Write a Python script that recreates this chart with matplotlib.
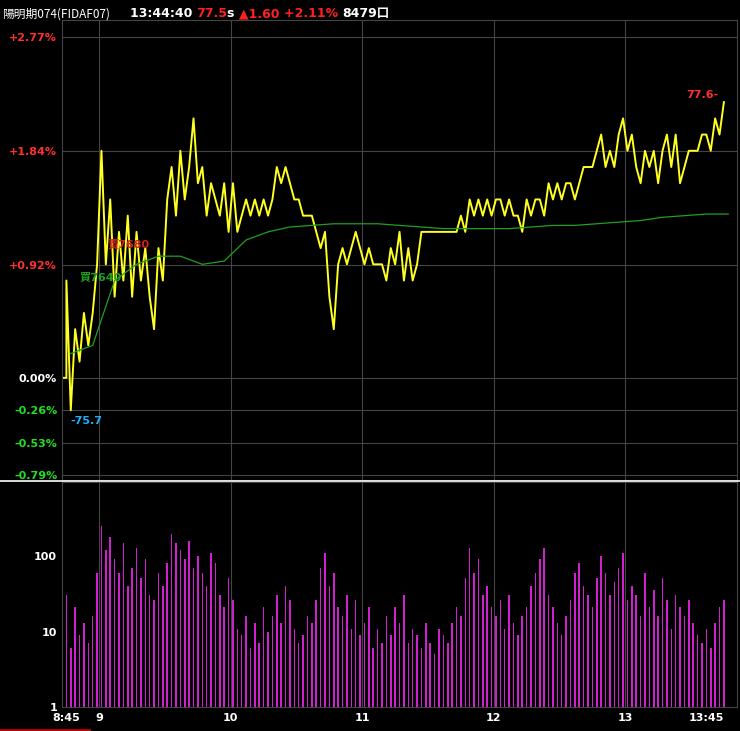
import numpy as np
import matplotlib.pyplot as plt

prev_close = 75.9
# prices every 2 minutes from 8:45
prices = [76.5, 75.7, 76.2, 76.0, 76.3, 76.1, 76.3, 76.6, 77.3, 76.6,
          77.0, 76.4, 76.8, 76.5, 76.9, 76.4, 76.8, 76.5, 76.7, 76.4,
          76.2, 76.7, 76.5, 77.0, 77.2, 76.9, 77.3, 77.0, 77.2, 77.5,
          77.1, 77.2, 76.9, 77.1, 77.0, 76.9, 77.1, 76.8, 77.1, 76.8,
          76.9, 77.0, 76.9, 77.0, 76.9, 77.0, 76.9, 77.0, 77.2, 77.1,
          77.2, 77.1, 77.0, 77.0, 76.9, 76.9, 76.9, 76.8, 76.7, 76.8,
          76.4, 76.2, 76.6, 76.7, 76.6, 76.7, 76.8, 76.7, 76.6, 76.7,
          76.6, 76.6, 76.6, 76.5, 76.7, 76.6, 76.8, 76.5, 76.7, 76.5,
          76.6, 76.8, 76.8, 76.8, 76.8, 76.8, 76.8, 76.8, 76.8, 76.8,
          76.9, 76.8, 77.0, 76.9, 77.0, 76.9, 77.0, 76.9, 77.0, 77.0,
          76.9, 77.0, 76.9, 76.9, 76.8, 77.0, 76.9, 77.0, 77.0, 76.9,
          77.1, 77.0, 77.1, 77.0, 77.1, 77.1, 77.0, 77.1, 77.2, 77.2,
          77.2, 77.3, 77.4, 77.2, 77.3, 77.2, 77.4, 77.5, 77.3, 77.4,
          77.2, 77.1, 77.3, 77.2, 77.3, 77.1, 77.3, 77.4, 77.2, 77.4,
          77.1, 77.2, 77.3, 77.3, 77.3, 77.4, 77.4, 77.3, 77.5, 77.4,
          77.6]
# average price every 10 minutes
avg_prices = [76.05, 76.1, 76.5, 76.6, 76.65, 76.65, 76.6, 76.62, 76.75, 76.8,
              76.83, 76.84, 76.85, 76.85, 76.85, 76.84, 76.83, 76.82, 76.82, 76.82,
              76.82, 76.83, 76.84, 76.84, 76.85, 76.86, 76.87, 76.89, 76.9, 76.91,
              76.91]
volumes = [30, 5, 20, 8, 12, 6, 15, 60, 250, 120, 180, 90, 60, 150, 40, 70, 130, 50, 90, 30,
           25, 60, 40, 80, 200, 150, 120, 90, 160, 70, 100, 60, 40, 110, 80, 30, 20, 50, 25, 10,
           8, 15, 5, 12, 6, 20, 9, 15, 30, 12, 40, 25, 10, 6, 8, 15, 12, 25, 70, 110,
           40, 60, 20, 15, 30, 10, 25, 8, 12, 20, 5, 10, 6, 15, 8, 20, 12, 30, 6, 10,
           8, 5, 12, 6, 4, 10, 8, 6, 12, 20, 15, 50, 130, 60, 90, 30, 40, 20, 15, 25,
           10, 30, 12, 8, 15, 20, 40, 60, 90, 130, 30, 20, 12, 8, 15, 25, 60, 80, 40, 30,
           20, 50, 100, 60, 30, 45, 70, 110, 25, 40, 30, 15, 60, 20, 35, 15, 50, 25, 10, 30,
           20, 15, 25, 12, 8, 6, 10, 5, 12, 20, 25]
hour_ticks = [0, 15, 75, 135, 195, 255, 300]
hour_labels = ['8:45', '9', '10', '11', '12', '13', '13:45']
pct_ticks = [2.77, 1.84, 0.92, 0.0, -0.26, -0.53, -0.79]

def pct(p):
    return (np.asarray(p) - prev_close) / prev_close * 100

t_price = np.arange(len(prices)) * 2
t_avg = np.arange(len(avg_prices)) * 10
t_vol = np.arange(len(volumes)) * 2

plt.rcParams['font.family'] = ['DejaVu Sans', 'Noto Sans CJK TC']
fig = plt.figure(figsize=(7.4, 7.31), dpi=100, facecolor='black')
ax = fig.add_axes([0.0838, 0.3434, 0.9122, 0.6292], facecolor='black')
axv = fig.add_axes([0.0838, 0.0328, 0.9122, 0.3078], facecolor='black', sharex=ax)

grid = '#444444'
for a in (ax, axv):
    for s in a.spines.values():
        s.set_color(grid)
    a.tick_params(length=0)
for t in hour_ticks[1:-1]:
    ax.axvline(t, color=grid, lw=0.8)
    axv.axvline(t, color=grid, lw=0.8)
for v in pct_ticks:
    ax.axhline(v, color=grid, lw=0.8)

ax.plot(np.r_[-2, 0, t_price], np.r_[0, 0, pct(prices)], color='#ffff20', lw=1.4)
ax.plot(t_avg + 2, pct(avg_prices), color='#20a020', lw=0.9)
ax.set_xlim(-2, 306)
ax.set_ylim(-0.83, 2.907)
ax.set_yticks(pct_ticks)
ax.set_yticklabels(['+2.77%', '+1.84%', '+0.92%', '0.00%', '-0.26%', '-0.53%', '-0.79%'],
                   fontsize=8, fontweight='bold')
for lbl, v in zip(ax.get_yticklabels(), pct_ticks):
    lbl.set_color('#ff3030' if v > 0 else ('white' if v == 0 else '#20e020'))
ax.tick_params(axis='x', labelbottom=False)

ax.text(2, pct(75.7) - 0.05, '-75.7', color='#20b0ff', fontsize=8, fontweight='bold', va='top')
ax.text(283, pct(77.6) + 0.02, '77.6-', color='#ff3030', fontsize=8, fontweight='bold', va='bottom')
ax.text(19, pct(76.7), '賣7680', color='#d02020', fontsize=8, fontweight='bold')
ax.text(6, pct(76.5), '買7640', color='#20a020', fontsize=8, fontweight='bold')

axv.bar(t_vol, volumes, width=0.7, color='#d020d0', bottom=1)
axv.set_yscale('log')
axv.set_ylim(1, 970)
axv.set_yticks([1, 10, 100])
axv.set_yticklabels(['1', '10', '100'], color='white', fontsize=8, fontweight='bold')
axv.minorticks_off()
axv.set_xticks(hour_ticks)
axv.set_xticklabels(hour_labels, color='white', fontsize=8, fontweight='bold')
axv.tick_params(axis='x', pad=4)
axv.get_xticklabels()[-1].set_horizontalalignment('right')
axv.get_xticklabels()[-1].set_x(306)

fig.add_artist(plt.Line2D([0, 1], [0.342, 0.342], color='white', lw=1.2))
fig.add_artist(plt.Line2D([0, 0.12], [0.002, 0.002], color='#c00000', lw=2))

fig.text(0.003, 0.99, '陽明期074(FIDAF07)', color='white', fontsize=8.5, va='top',
         family=['Noto Sans CJK TC', 'DejaVu Sans'])
hx = 0.175
for s, c in [('13:44:40 ', 'white'), ('77.5', '#ff2020'), ('s ', 'white'),
             ('▲1.60 ', '#ff2020'), ('+2.11% ', '#ff2020'), ('8479口', 'white')]:
    t = fig.text(hx, 0.99, s, color=c, fontsize=9, fontweight='bold', va='top',
                 family=['DejaVu Sans', 'Noto Sans CJK TC'])
    fig.canvas.draw()
    bb = t.get_window_extent()
    hx += bb.width / fig.bbox.width

fig.savefig('out.png', facecolor='black')
